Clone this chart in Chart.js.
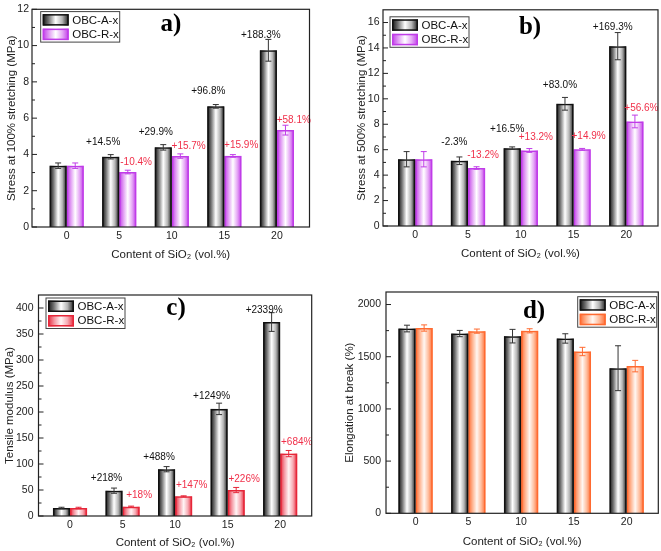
<!DOCTYPE html>
<html>
<head>
<meta charset="utf-8">
<script src="https://cdn.jsdelivr.net/npm/chart.js@4"></script>
<style>
    html, body { margin: 0; padding: 0; background: #fff; }
    #wrap { position: relative; width: 661px; height: 551px; }
    .panel { position: absolute; }
</style>
</head>
<body>
<div id="wrap">
    <div class="panel" style="left:0;top:0;width:330px;height:275px"><canvas id="chartA"></canvas></div>
    <div class="panel" style="left:330px;top:0;width:331px;height:275px"><canvas id="chartB"></canvas></div>
    <div class="panel" style="left:0;top:275px;width:330px;height:276px"><canvas id="chartC"></canvas></div>
    <div class="panel" style="left:330px;top:275px;width:331px;height:276px"><canvas id="chartD"></canvas></div>
</div>
<script>
// SiO2 content (vol.%)
const contents = [0, 5, 10, 15, 20];
const xTicks = [0, 5, 10, 15, 20];

// a) stress at 100% stretching (MPa)
const stress100Ticks = [0, 2, 4, 6, 8, 10, 12];
const stress100A = [3.38, 3.87, 4.39, 6.65, 9.74];
const stress100AErr = [0.15, 0.12, 0.15, 0.10, 0.60];
const stress100R = [3.38, 3.03, 3.91, 3.92, 5.34];
const stress100RErr = [0.15, 0.10, 0.12, 0.07, 0.27];
const stress100ANotes = ['', '+14.5%', '+29.9%', '+96.8%', '+188.3%'];
const stress100RNotes = ['', '-10.4%', '+15.7%', '+15.9%', '+58.1%'];

// b) stress at 500% stretching (MPa)
const stress500Ticks = [0, 2, 4, 6, 8, 10, 12, 14, 16];
const stress500A = [5.25, 5.13, 6.12, 9.61, 14.14];
const stress500AErr = [0.60, 0.30, 0.10, 0.50, 1.07];
const stress500R = [5.25, 4.56, 5.94, 6.03, 8.22];
const stress500RErr = [0.60, 0.10, 0.15, 0.07, 0.50];
const stress500ANotes = ['', '-2.3%', '+16.5%', '+83.0%', '+169.3%'];
const stress500RNotes = ['', '-13.2%', '+13.2%', '+14.9%', '+56.6%'];

// c) tensile modulus (MPa)
const modulusTicks = [0, 50, 100, 150, 200, 250, 300, 350, 400];
const modulusA = [15.3, 48.7, 90, 206, 373];
const modulusAErr = [1.5, 5, 5, 11, 18];
const modulusR = [15.3, 18.0, 37.8, 49.9, 120];
const modulusRErr = [1.5, 1, 1, 5, 6];
const modulusANotes = ['', '+218%', '+488%', '+1249%', '+2339%'];
const modulusRNotes = ['', '+18%', '+147%', '+226%', '+684%'];

// d) elongation at break (%)
const elongTicks = [0, 500, 1000, 1500, 2000];
const elongA = [1770, 1722, 1697, 1675, 1390];
const elongAErr = [32, 30, 65, 45, 215];
const elongR = [1775, 1745, 1748, 1550, 1410];
const elongRErr = [30, 20, 20, 40, 55];

const seriesNames = ['OBC-A-x', 'OBC-R-x'];

const FONT = '"Liberation Sans", Arial, sans-serif';

const grayGrad = [[0, '#111'], [0.22, '#707070'], [0.5, '#fff'], [0.75, '#b5b5b5'], [1, '#1c1c1c']];
const violetGrad = [[0, '#c03ce8'], [0.25, '#e2a0f4'], [0.5, '#fff'], [0.75, '#e6aaf6'], [1, '#c03ce8']];
const redGrad = [[0, '#e62639'], [0.25, '#f59aa5'], [0.5, '#fff5f6'], [0.75, '#f7aab3'], [1, '#e62639']];
const orangeGrad = [[0, '#ff6a30'], [0.25, '#ffb592'], [0.5, '#fff7f2'], [0.75, '#ffbd9d'], [1, '#ff6a30']];

function hGradient(ctx, x0, x1, stops) {
    const g = ctx.createLinearGradient(x0, 0, x1, 0);
    stops.forEach(s => g.addColorStop(s[0], s[1]));
    return g;
}

const barDecor = {
    id: 'barDecor',
    beforeDatasetDraw(chart, args) {
        const ds = chart.data.datasets[args.index];
        const ctx = chart.ctx;
        ctx.save();
        args.meta.data.forEach(bar => {
            const { x, y, base, width } = bar.getProps(['x', 'y', 'base', 'width'], true);
            ctx.fillStyle = hGradient(ctx, x - width / 2, x + width / 2, ds.gradient);
            ctx.fillRect(x - width / 2, y, width, base - y);
        });
        ctx.restore();
    },
    afterDatasetsDraw(chart, args, opts) {
        const ctx = chart.ctx;
        const yScale = chart.scales.y;
        ctx.save();
        chart.data.datasets.forEach((ds, i) => {
            const meta = chart.getDatasetMeta(i);
            meta.data.forEach((bar, j) => {
                const v = ds.data[j].y;
                const e = ds.errors[j];
                const yt = yScale.getPixelForValue(v + e);
                const yb = yScale.getPixelForValue(v - e);
                ctx.strokeStyle = ds.errColor;
                ctx.lineWidth = 1;
                ctx.beginPath();
                ctx.moveTo(bar.x, yt); ctx.lineTo(bar.x, yb);
                ctx.moveTo(bar.x - 3, yt); ctx.lineTo(bar.x + 3, yt);
                ctx.moveTo(bar.x - 3, yb); ctx.lineTo(bar.x + 3, yb);
                ctx.stroke();

                const note = ds.notes ? ds.notes[j] : '';
                if (note) {
                    ctx.font = '10px ' + FONT;
                    ctx.fillStyle = ds.noteColor;
                    ctx.textAlign = 'center';
                    ctx.textBaseline = 'alphabetic';
                    const shift = i === 0 ? opts.aShift : opts.rShift;
                    const gap = i === 0 ? opts.aGap : opts.rGap;
                    ctx.fillText(note, bar.x + shift, bar.y - gap);
                }
            });
        });
        ctx.restore();
    },
    afterDraw(chart, args, opts) {
        const ctx = chart.ctx;
        const area = chart.chartArea;
        const yScale = chart.scales.y;
        ctx.save();

        // frame
        ctx.strokeStyle = '#222';
        ctx.lineWidth = 1.2;
        ctx.strokeRect(area.left, area.top, area.right - area.left, area.bottom - area.top);

        // inward ticks, major and minor
        ctx.lineWidth = 1;
        const ticks = yScale.ticks.map(t => t.value);
        ticks.forEach((v, k) => {
            const py = yScale.getPixelForValue(v);
            ctx.beginPath();
            ctx.moveTo(area.left, py); ctx.lineTo(area.left + 5, py);
            ctx.stroke();
            const step = k + 1 < ticks.length ? ticks[k + 1] - v : v - ticks[k - 1];
            const mid = v + step / 2;
            if (mid < yScale.max) {
                const pm = yScale.getPixelForValue(mid);
                ctx.beginPath();
                ctx.moveTo(area.left, pm); ctx.lineTo(area.left + 3, pm);
                ctx.stroke();
            }
        });

        // legend
        const L = area.left + opts.legend.left;
        const T = area.top + opts.legend.top;
        ctx.strokeStyle = '#444';
        ctx.lineWidth = 1;
        ctx.strokeRect(L, T, 79, 30.5);
        chart.data.datasets.forEach((ds, i) => {
            const sx = L + 2, sy = T + 2.5 + i * 14.5, sw = 26, sh = 11.5;
            ctx.fillStyle = hGradient(ctx, sx, sx + sw, ds.gradient);
            ctx.fillRect(sx, sy, sw, sh);
            ctx.strokeStyle = ds.borderColor;
            ctx.lineWidth = 1.5;
            ctx.strokeRect(sx + 0.75, sy + 0.75, sw - 1.5, sh - 1.5);
            ctx.fillStyle = '#111';
            ctx.font = '11.5px ' + FONT;
            ctx.textAlign = 'left';
            ctx.textBaseline = 'middle';
            ctx.fillText(ds.label, sx + sw + 3.5, sy + sh / 2 + 0.5);
        });

        // panel letter
        ctx.fillStyle = '#000';
        ctx.font = 'bold 25px "Liberation Serif", "Times New Roman", serif';
        ctx.textAlign = 'center';
        ctx.textBaseline = 'middle';
        ctx.fillText(opts.letter, area.left + opts.letterPos[0], area.top + opts.letterPos[1]);

        ctx.restore();
    }
};

function buildChart(id, p) {
    const tickFont = { family: FONT, size: 10.5 };
    const titleFont = { family: FONT, size: 11.5, lineHeight: 1.2 };
    return new Chart(document.getElementById(id), {
        type: 'bar',
        data: {
            datasets: [
                {
                    label: seriesNames[0],
                    data: contents.map((c, i) => ({ x: c, y: p.a[i] })),
                    errors: p.aErr,
                    notes: p.aNotes,
                    gradient: grayGrad,
                    borderColor: '#111',
                    errColor: '#333',
                    noteColor: '#111'
                },
                {
                    label: seriesNames[1],
                    data: contents.map((c, i) => ({ x: c, y: p.r[i] })),
                    errors: p.rErr,
                    notes: p.rNotes,
                    gradient: p.rGrad,
                    borderColor: p.rBorder,
                    errColor: p.rBorder,
                    noteColor: '#f0304a'
                }
            ]
        },
        options: {
            animation: false,
            responsive: true,
            maintainAspectRatio: false,
            devicePixelRatio: 1,
            layout: { padding: { top: p.padTop, right: p.padRight, left: 0, bottom: 0 } },
            datasets: {
                bar: {
                    categoryPercentage: 0.65,
                    barPercentage: 1,
                    borderWidth: 1.5,
                    borderSkipped: 'start',
                    backgroundColor: 'rgba(0,0,0,0)'
                }
            },
            scales: {
                x: {
                    type: 'linear',
                    min: p.xMin,
                    max: p.xMax,
                    offset: false,
                    grid: { display: false, drawTicks: false, offset: false },
                    border: { display: false },
                    afterBuildTicks: s => { s.ticks = xTicks.map(v => ({ value: v })); },
                    afterFit: s => { s.height = p.xAxisHeight; },
                    ticks: { font: tickFont, color: '#222', padding: 3, maxRotation: 0, callback: v => String(v) },
                    title: {
                        display: true,
                        text: 'Content of SiO\u2082 (vol.%)',
                        font: titleFont,
                        color: '#222',
                        padding: { top: 0, bottom: p.xTitlePad }
                    }
                },
                y: {
                    min: 0,
                    max: p.yMax,
                    grid: { display: false, drawTicks: false },
                    border: { display: false },
                    afterBuildTicks: s => { s.ticks = p.yTicks.map(v => ({ value: v })); },
                    afterFit: s => { s.width = p.yAxisWidth; },
                    ticks: { font: tickFont, color: '#222', padding: p.yTickPad, callback: v => String(v) },
                    title: {
                        display: true,
                        text: p.yTitle,
                        font: titleFont,
                        color: '#222',
                        padding: { top: p.yTitlePad, bottom: 0 }
                    }
                }
            },
            plugins: {
                legend: { display: false },
                tooltip: { enabled: false },
                barDecor: {
                    aShift: p.aShift, rShift: p.rShift,
                    aGap: p.aGap, rGap: p.rGap,
                    legend: p.legend,
                    letter: p.letter,
                    letterPos: p.letterPos
                }
            }
        },
        plugins: [barDecor]
    });
}

buildChart('chartA', {
    a: stress100A, aErr: stress100AErr, aNotes: stress100ANotes,
    r: stress100R, rErr: stress100RErr, rNotes: stress100RNotes,
    rGrad: violetGrad, rBorder: '#c03ce8',
    yTitle: 'Stress at 100% stretching (MPa)', yMax: 12, yTicks: stress100Ticks,
    xMin: -3.3, xMax: 23.1,
    padTop: 7, padRight: 20.5, yAxisWidth: 32, xAxisHeight: 48,
    yTickPad: 3, yTitlePad: 5, xTitlePad: 13,
    aShift: -7.5, rShift: 8.3, aGap: 12, rGap: 7.5,
    legend: { left: 8.7, top: 2.3 }, letter: 'a)', letterPos: [139, 15]
});

buildChart('chartB', {
    a: stress500A, aErr: stress500AErr, aNotes: stress500ANotes,
    r: stress500R, rErr: stress500RErr, rNotes: stress500RNotes,
    rGrad: violetGrad, rBorder: '#c03ce8',
    yTitle: 'Stress at 500% stretching (MPa)', yMax: 17, yTicks: stress500Ticks,
    xMin: -3.05, xMax: 23.0,
    padTop: 5, padRight: 3, yAxisWidth: 53, xAxisHeight: 49,
    yTickPad: 3.5, yTitlePad: 25, xTitlePad: 14,
    aShift: -5, rShift: 6.5, aGap: 16, rGap: 10.5,
    legend: { left: 7, top: 7 }, letter: 'b)', letterPos: [147, 18]
});

buildChart('chartC', {
    a: modulusA, aErr: modulusAErr, aNotes: modulusANotes,
    r: modulusR, rErr: modulusRErr, rNotes: modulusRNotes,
    rGrad: redGrad, rBorder: '#e62639',
    yTitle: 'Tensile modulus (MPa)', yMax: 425, yTicks: modulusTicks,
    xMin: -3.0, xMax: 23.0,
    padTop: 20, padRight: 18.3, yAxisWidth: 38.5, xAxisHeight: 35,
    yTickPad: 5, yTitlePad: 3, xTitlePad: 1,
    aShift: -7.5, rShift: 8, aGap: 9.5, rGap: 8.5,
    legend: { left: 7.5, top: 3 }, letter: 'c)', letterPos: [137.5, 14]
});

buildChart('chartD', {
    a: elongA, aErr: elongAErr, aNotes: null,
    r: elongR, rErr: elongRErr, rNotes: null,
    rGrad: orangeGrad, rBorder: '#ff6a30',
    yTitle: 'Elongation at break (%)', yMax: 2120, yTicks: elongTicks,
    xMin: -2.8, xMax: 23.0,
    padTop: 17, padRight: 2.7, yAxisWidth: 56, xAxisHeight: 37.7,
    yTickPad: 5, yTitlePad: 13, xTitlePad: 2.5,
    aShift: 0, rShift: 0, aGap: 0, rGap: 0,
    legend: { left: 191.7, top: 4.7 }, letter: 'd)', letterPos: [148, 20]
});
</script>
</body>
</html>
